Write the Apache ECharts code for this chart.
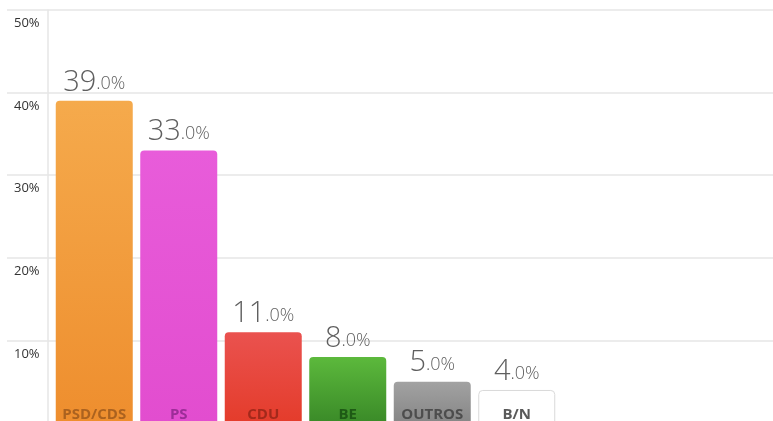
<!DOCTYPE html>
<html>
<head>
<meta charset="utf-8">
<script src="https://cdn.jsdelivr.net/npm/echarts@6/dist/echarts.min.js"></script>
<style>
html,body{margin:0;padding:0;background:#fff;}
#chart{width:773px;height:421px;}
</style>
</head>
<body>
<div id="chart"></div>
<script>
var categories = ['PSD/CDS', 'PS', 'CDU', 'BE', 'OUTROS', 'B/N'];
var values = [39.0, 33.0, 11.0, 8.0, 5.0, 4.0];
var barTop = ['#f5aa4c', '#e85cda', '#ea524f', '#5cb93c', '#a2a2a2', '#ffffff'];
var barBottom = ['#ee8e2e', '#e24dcf', '#e43c2b', '#3a8a28', '#868686', '#ffffff'];
var labelColors = ['#ab621f', '#9c2d98', '#a3291b', '#1e5a15', '#4d4d4d', '#5a5a5a'];
var yTicks = [0, 10, 20, 30, 40, 50];

var chart = echarts.init(document.getElementById('chart'));

var barData = values.map(function (v, i) {
  var item = {
    value: v,
    itemStyle: {
      color: new echarts.graphic.LinearGradient(0, 0, 0, 1, [
        { offset: 0, color: barTop[i] },
        { offset: 1, color: barBottom[i] }
      ]),
      borderRadius: [4, 4, 0, 0]
    }
  };
  if (categories[i] === 'B/N') {
    item.itemStyle.borderColor = '#d9d9d9';
    item.itemStyle.borderWidth = 1;
  }
  return item;
});

var catData = categories.map(function (c, i) {
  return { value: c, textStyle: { color: labelColors[i] } };
});

var gridColor = '#e6e6e6';

chart.setOption({
  animation: false,
  grid: [
    { left: 48, right: 0, top: 10, height: 413, containLabel: false, outerBoundsMode: 'none' },
    { left: 52, width: 507, top: 10, height: 413, containLabel: false, outerBoundsMode: 'none' }
  ],
  xAxis: [
    { gridIndex: 0, type: 'value', min: 0, max: 1, show: false },
    {
      gridIndex: 1, type: 'category', data: catData,
      axisLine: { show: false }, axisTick: { show: false },
      axisLabel: {
        inside: true, margin: 1, interval: 0,
        fontFamily: 'Open Sans', fontWeight: 'bold', fontSize: 15
      },
      z: 10
    }
  ],
  yAxis: [
    {
      gridIndex: 0, type: 'value', min: yTicks[0], max: yTicks[yTicks.length - 1], interval: 10,
      axisLine: { show: true, lineStyle: { color: gridColor, width: 1.5 } },
      axisTick: { show: true, length: 41, lineStyle: { color: gridColor, width: 1.5 } },
      splitLine: { show: true, lineStyle: { color: gridColor, width: 1.5 } },
      axisLabel: {
        formatter: '{value}%', align: 'left', margin: 34, verticalAlign: 'top',
        padding: [7, 0, 0, 0],
        fontFamily: 'Open Sans', fontSize: 13, color: '#333'
      }
    },
    {
      gridIndex: 1, type: 'value', min: yTicks[0], max: yTicks[yTicks.length - 1], show: false
    }
  ],
  series: [{
    type: 'bar',
    xAxisIndex: 1, yAxisIndex: 1,
    barWidth: 77,
    data: barData,
    label: {
      show: true, position: 'top', distance: 4,
      formatter: function (p) {
        var s = p.value.toFixed(1).split('.');
        return '{a|' + s[0] + '}{b|.' + s[1] + '%}';
      },
      rich: {
        a: { fontFamily: 'Open Sans', fontWeight: 300, fontSize: 29, color: '#5f5f5f' },
        b: { fontFamily: 'Open Sans', fontWeight: 300, fontSize: 18, color: '#5f5f5f', padding: [4, 0, 0, 0] }
      }
    }
  }]
});
</script>
</body>
</html>
